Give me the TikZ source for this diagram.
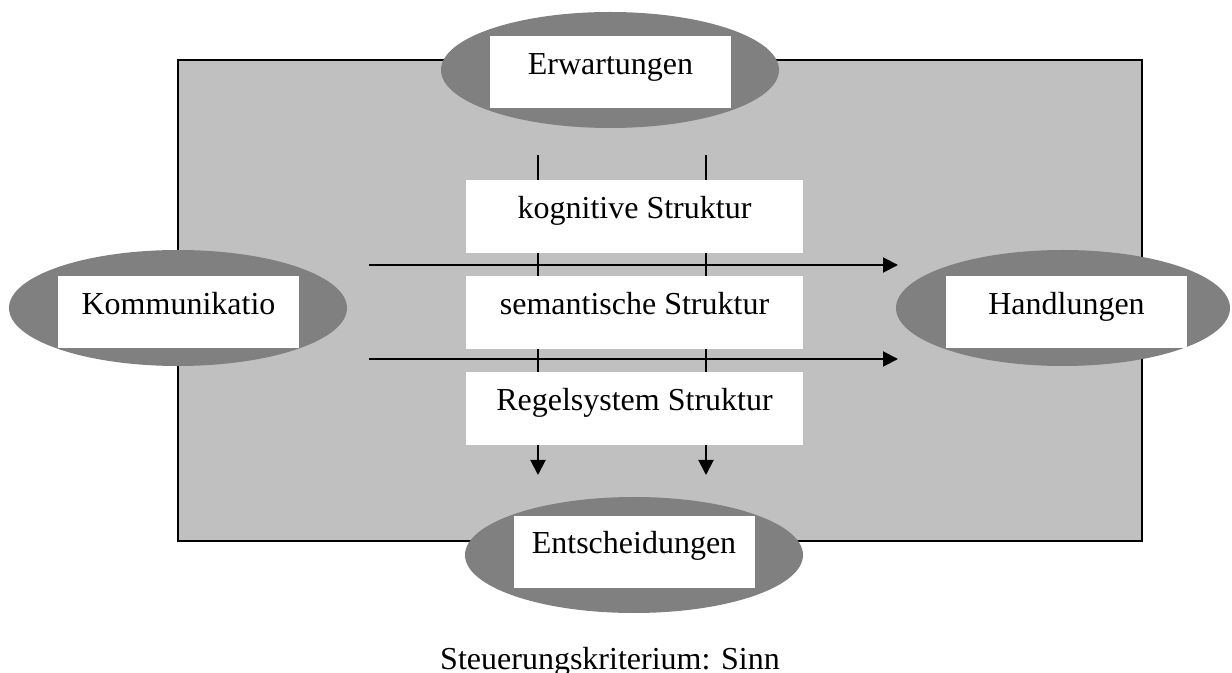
\documentclass[tikz,border=0pt]{standalone}
\usepackage{fontspec}
\setmainfont{Liberation Serif}
\usetikzlibrary{shapes.geometric,arrows.meta}
\definecolor{panelgray}{HTML}{C0C0C0}
\definecolor{ovalgray}{HTML}{808080}
\begin{document}
\begin{tikzpicture}[x=0.5pt,y=-0.5pt,
  oval/.style={ellipse,fill=ovalgray,draw=none,inner sep=0pt,minimum width=169pt,minimum height=58pt},
  tbox/.style={rectangle,fill=white,draw=none,inner xsep=0pt,inner ysep=0pt,
    minimum width=120.5pt,text height=19.5pt,text depth=16.5pt,
    font=\fontsize{16}{19}\selectfont},
  mbox/.style={rectangle,fill=white,draw=none,inner xsep=0pt,inner ysep=0pt,
    minimum width=168.5pt,text height=19.5pt,text depth=17pt,
    font=\fontsize{16}{19}\selectfont},
  arr/.style={line width=1pt,-{Triangle[length=7.5pt,width=7.5pt]}}]
\useasboundingbox (0,0) rectangle (1232,673);
\fill[white] (0,0) rectangle (1232,673);
% panel
\draw[fill=panelgray,line width=0.75pt] (178,60) rectangle (1142,541);
% ovals
\node[oval] (eo) at (610,70) {};
\node[oval] (ko) at (178,308) {};
\node[oval,minimum width=167pt] (ho) at (1063,308) {};
\node[oval] (so) at (634,555) {};
% oval labels
\node[tbox] (erw) at (610.5,72) {Erwartungen};
\node[tbox] (kom) at (178.5,312) {Kommunikatio};
\node[tbox] (han) at (1066.5,312) {Handlungen};
\node[tbox,text height=18.5pt,text depth=17.5pt] (ent) at (634,552) {Entscheidungen};
% line ends
\coordinate (v1t) at (538,155);
\coordinate (v1b) at (538,475);
\coordinate (v2t) at (706,155);
\coordinate (v2b) at (706,475);
\coordinate (h1l) at (369,265);
\coordinate (h1r) at (898,265);
\coordinate (h2l) at (369,359);
\coordinate (h2r) at (898,359);
\draw[arr] (v1t) -- (v1b);
\draw[arr] (v2t) -- (v2b);
\draw[arr] (h1l) -- (h1r);
\draw[arr] (h2l) -- (h2r);
% structure boxes
\node[mbox] (kog) at (634.5,216.5) {kognitive Struktur};
\node[mbox] (sem) at (634.5,312.5) {semantische Struktur};
\node[mbox] (reg) at (634.5,408.5) {Regelsystem Struktur};
% caption
\node[font=\fontsize{16}{19}\selectfont,inner sep=0pt,anchor=base] (cap) at (610,669) {Steuerungskriterium: Sinn};
\end{tikzpicture}
\end{document}
